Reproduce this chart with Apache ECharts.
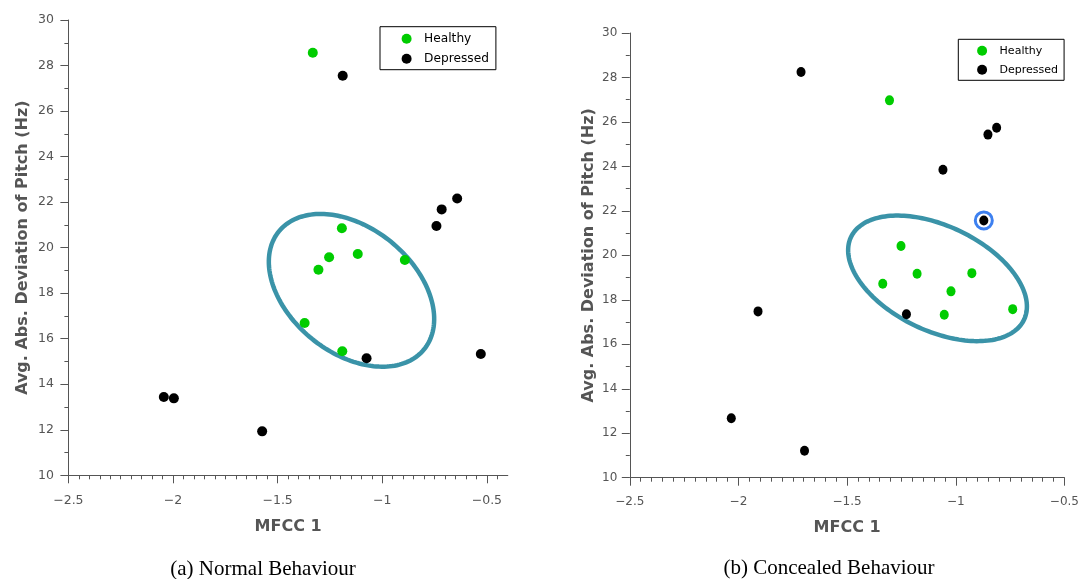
<!DOCTYPE html>
<html><head><meta charset="utf-8">
<script src="https://cdn.jsdelivr.net/npm/echarts@6/dist/echarts.min.js"></script>
<style>html,body{margin:0;padding:0;background:#fff}#c{width:1082px;height:579px}</style>
</head><body><div id="c"></div>
<script>
// ---- data ----
const xTicks = [-2.5, -2, -1.5, -1, -0.5];
const yTicks = [10, 12, 14, 16, 18, 20, 22, 24, 26, 28, 30];
const legendNames = ['Healthy', 'Depressed'];
const captions = ['(a) Normal Behaviour', '(b) Concealed Behaviour'];
const xName = 'MFCC 1';
const yName = 'Avg. Abs. Deviation of Pitch (Hz)';

const normalHealthy = [[-1.332,28.56],[-1.193,20.85],[-1.254,19.58],[-1.305,19.03],[-1.117,19.72],[-0.892,19.46],[-1.371,16.69],[-1.191,15.45]];
const normalDepressed = [[-1.189,27.55],[-0.741,20.95],[-0.716,21.68],[-0.642,22.16],[-1.075,15.14],[-0.529,15.33],[-2.044,13.44],[-1.996,13.38],[-1.574,11.93]];
const concealedHealthy = [[-1.305,26.97],[-1.252,20.42],[-1.178,19.17],[-1.336,18.72],[-0.926,19.20],[-1.022,18.38],[-1.053,17.33],[-0.738,17.58]];
const concealedDepressed = [[-1.712,28.25],[-1.059,23.85],[-0.852,25.43],[-0.812,25.74],[-0.871,21.57],[-1.227,17.35],[-1.910,17.48],[-2.033,12.67],[-1.696,11.21]];
const concealedHighlight = [[-0.871,21.57]];

// ellipse annotations: centre and two semi-axis vectors, in data units
const ellipseNormal = {center:[-1.147,18.125], u:[0.347,-2.591], v:[-0.189,-2.130]};
const ellipseConcealed = {center:[-1.084,18.965], u:[0.399,-1.840], v:[-0.100,-2.141]};

// ---- styles ----
const GREEN = '#00cc00', BLACK = '#000000', TEAL = '#3a93a8', RING = '#3d80f0', AXIS = '#555555';
const FONT = 'DejaVu Sans';

function ellipseRenderer(e){
  return function(params, api){
    const pts = [];
    const n = 180;
    for (let i = 0; i < n; i++) {
      const t = 2 * Math.PI * i / n, c = Math.cos(t), s = Math.sin(t);
      pts.push(api.coord([e.center[0] + c*e.u[0] + s*e.v[0], e.center[1] + c*e.u[1] + s*e.v[1]]));
    }
    return {type:'polygon', shape:{points:pts}, style:{fill:'none', stroke:TEAL, lineWidth:4.5}};
  };
}

function xAxisCfg(gi, max, fs, gap){
  return {
    type:'value', gridIndex:gi, min:-2.5, max:max, interval:0.5,
    name:xName, nameLocation:'middle', nameGap:gap,
    nameTextStyle:{fontFamily:FONT, fontWeight:'bold', fontSize:16, color:AXIS},
    axisLine:{show:true, onZero:false, lineStyle:{color:AXIS, width:1}},
    axisTick:{show:true, inside:false, length:8, customValues:xTicks, lineStyle:{color:AXIS, width:1}},
    minorTick:{show:true, splitNumber:10, length:4, lineStyle:{color:AXIS, width:1}},
    axisLabel:{show:true, customValues:xTicks, margin:18.5, fontFamily:FONT, fontSize:fs, color:AXIS,
      formatter:v => String(v).replace('-', '\u2212')},
    splitLine:{show:false}, minorSplitLine:{show:false}
  };
}
function yAxisCfg(gi, gap, fs, margin){
  return {
    type:'value', gridIndex:gi, min:10, max:30, interval:2,
    name:yName, nameLocation:'middle', nameGap:gap, nameRotate:90,
    nameTextStyle:{fontFamily:FONT, fontWeight:'bold', fontSize:16, color:AXIS},
    axisLine:{show:true, onZero:false, lineStyle:{color:AXIS, width:1}},
    axisTick:{show:true, inside:false, length:8, lineStyle:{color:AXIS, width:1}},
    minorTick:{show:true, splitNumber:2, length:4, lineStyle:{color:AXIS, width:1}},
    axisLabel:{show:true, customValues:yTicks, margin:margin, fontFamily:FONT, fontSize:fs, color:AXIS},
    splitLine:{show:false}, minorSplitLine:{show:false}
  };
}

const chart = echarts.init(document.getElementById('c'), null, {renderer:'canvas'});
chart.setOption({
  animation:false,
  backgroundColor:'#fff',
  grid:[
    {left:68.4, top:20, width:439.4, height:455.3},
    {left:629.8, top:33, width:441.1, height:444.7}
  ],
  xAxis:[xAxisCfg(0, -0.4, 12.5, 44), xAxisCfg(1, -0.5, 12, 42)],
  yAxis:[yAxisCfg(0, 38, 12.5, 14.5), yAxisCfg(1, 33, 12, 12.5)],
  legend:[
    {data:legendNames, orient:'vertical', left:380, top:26.7, icon:'circle',
     itemWidth:25, itemHeight:10, itemGap:8, padding:[6,7,5,21.6],
     borderColor:'#000', borderWidth:1, backgroundColor:'#fff',
     textStyle:{fontFamily:FONT, fontSize:12.2, color:'#000'}},
    {data:legendNames, orient:'vertical', left:958.3, top:39.3, icon:'circle',
     itemWidth:25, itemHeight:10, itemGap:8, padding:[6,6,5,18.8],
     borderColor:'#000', borderWidth:1, backgroundColor:'#fff',
     textStyle:{fontFamily:FONT, fontSize:11, color:'#000'}}
  ],
  graphic:[
    {type:'text', x:263, y:569.5, style:{text:captions[0], font:'21px "Liberation Serif"', fill:'#000', align:'center', verticalAlign:'middle', textAlign:'center', textVerticalAlign:'middle'}},
    {type:'text', x:829, y:568.5, style:{text:captions[1], font:'21px "Liberation Serif"', fill:'#000', align:'center', verticalAlign:'middle', textAlign:'center', textVerticalAlign:'middle'}}
  ],
  series:[
    {type:'custom', name:'ellipseA', xAxisIndex:0, yAxisIndex:0, data:[ellipseNormal.center], encode:{x:0,y:1}, renderItem:ellipseRenderer(ellipseNormal), silent:true, z:1},
    {type:'custom', name:'ellipseB', xAxisIndex:1, yAxisIndex:1, data:[ellipseConcealed.center], encode:{x:0,y:1}, renderItem:ellipseRenderer(ellipseConcealed), silent:true, z:1},
    {type:'scatter', name:'Healthy', xAxisIndex:0, yAxisIndex:0, data:normalHealthy, symbol:'circle', symbolSize:10, itemStyle:{color:GREEN, opacity:1}, z:3},
    {type:'scatter', name:'Depressed', xAxisIndex:0, yAxisIndex:0, data:normalDepressed, symbol:'circle', symbolSize:10, itemStyle:{color:BLACK, opacity:1}, z:3},
    {type:'scatter', name:'Healthy', xAxisIndex:1, yAxisIndex:1, data:concealedHealthy, symbol:'circle', symbolSize:[9,10], itemStyle:{color:GREEN, opacity:1}, z:3},
    {type:'scatter', name:'Depressed', xAxisIndex:1, yAxisIndex:1, data:concealedDepressed, symbol:'circle', symbolSize:[9,10], itemStyle:{color:BLACK, opacity:1}, z:3},
    {type:'scatter', name:'highlight', xAxisIndex:1, yAxisIndex:1, data:concealedHighlight, symbol:'circle', symbolSize:17, itemStyle:{color:'rgba(0,0,0,0)', borderColor:RING, borderWidth:3, opacity:1}, z:2}
  ]
});
</script>
</body></html>
